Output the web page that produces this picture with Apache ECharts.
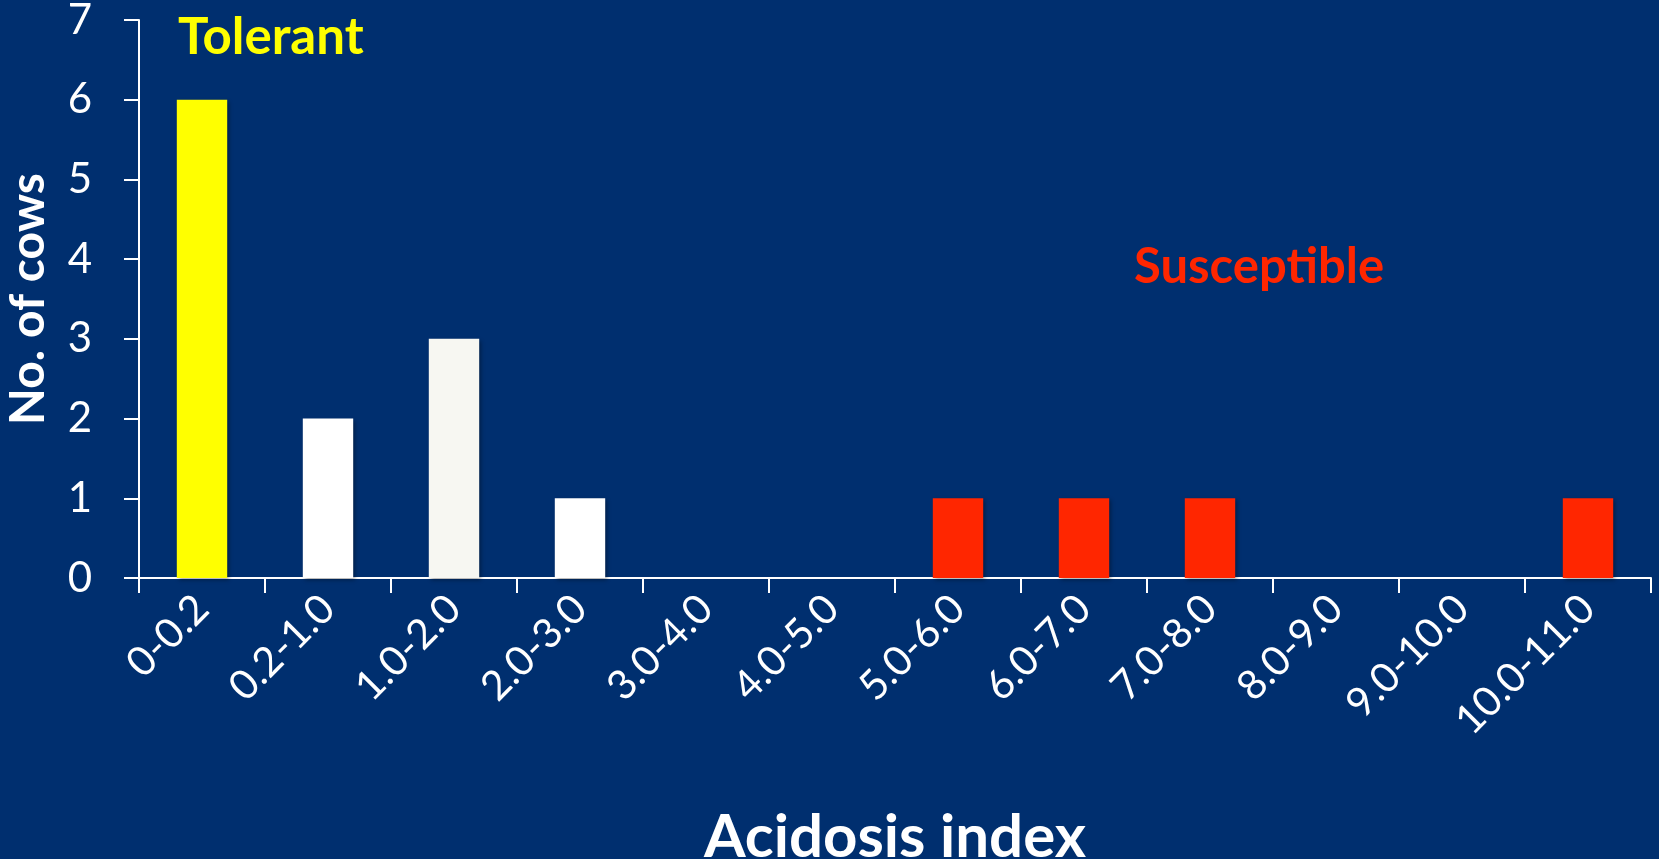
<!DOCTYPE html>
<html>
<head>
<meta charset="utf-8">
<script src="https://cdn.jsdelivr.net/npm/echarts@6/dist/echarts.min.js"></script>
<style>
  html, body { margin: 0; padding: 0; background: #002F6F; }
  #chart { width: 1659px; height: 859px; }
</style>
</head>
<body>
<div id="chart"></div>
<script>
// Acidosis index classes and number of cows in each
const categories = ['0-0.2', '0.2-1.0', '1.0-2.0', '2.0-3.0', '3.0-4.0', '4.0-5.0',
                    '5.0-6.0', '6.0-7.0', '7.0-8.0', '8.0-9.0', '9.0-10.0', '10.0-11.0'];
const cowCounts = [6, 2, 3, 1, 0, 0, 1, 1, 1, 0, 0, 1];
// Bar colour per class: tolerant (yellow), intermediate (white), susceptible (red)
const barColors = ['#FFFF00', '#FFFFFF', '#F7F7F2', '#FFFFFF', '#FFFFFF', '#FFFFFF',
                   '#FF2600', '#FF2600', '#FF2600', '#FF2600', '#FF2600', '#FF2600'];
const yTicks = [0, 1, 2, 3, 4, 5, 6, 7];

const FONT = 'Lato, "Open Sans", sans-serif';

const chart = echarts.init(document.getElementById('chart'));
chart.setOption({
  backgroundColor: '#002F6F',
  animation: false,
  grid: { left: 139, right: 8, top: 20, bottom: 281, containLabel: false, outerBoundsMode: 'none' },
  xAxis: {
    type: 'category',
    data: categories,
    name: 'Acidosis index',
    nameLocation: 'middle',
    nameGap: 230,
    nameMoveOverlap: false,
    nameTextStyle: { color: '#FFFFFF', fontSize: 60, fontWeight: 'bold', fontFamily: FONT },
    axisLine: { show: true, lineStyle: { color: '#FFFFFF', width: 2 } },
    axisTick: { show: true, length: 15, inside: false, lineStyle: { color: '#FFFFFF', width: 2 } },
    axisLabel: { color: '#FFFFFF', fontSize: 41, fontFamily: FONT, rotate: 45, margin: 24, interval: 0 },
    splitLine: { show: false }
  },
  yAxis: {
    type: 'value',
    min: yTicks[0],
    max: yTicks[yTicks.length - 1],
    interval: 1,
    name: 'No. of cows',
    nameLocation: 'middle',
    nameGap: 86,
    nameMoveOverlap: false,
    nameTextStyle: { color: '#FFFFFF', fontSize: 48, fontWeight: 'bold', fontFamily: FONT },
    axisLine: { show: true, lineStyle: { color: '#FFFFFF', width: 2 } },
    axisTick: { show: true, length: 15, inside: false, lineStyle: { color: '#FFFFFF', width: 2 } },
    axisLabel: { color: '#FFFFFF', fontSize: 42, fontFamily: FONT, margin: 47 },
    splitLine: { show: false }
  },
  series: [{
    type: 'bar',
    data: cowCounts.map((v, i) => ({ value: v, itemStyle: { color: barColors[i] } })),
    barWidth: '40%',
    itemStyle: {
      shadowColor: 'rgba(0,0,0,0.35)',
      shadowBlur: 4,
      shadowOffsetX: 2,
      shadowOffsetY: 2
    }
  }],
  graphic: [
    {
      type: 'text', left: 178, top: 12,
      style: { text: 'Tolerant', fill: '#FFFF00', fontSize: 51, fontWeight: 'bold', fontFamily: FONT }
    },
    {
      type: 'text', left: 1134, top: 243,
      style: { text: 'Susceptible', fill: '#FF2600', fontSize: 49, fontWeight: 'bold', fontFamily: FONT }
    }
  ]
});
</script>
</body>
</html>
